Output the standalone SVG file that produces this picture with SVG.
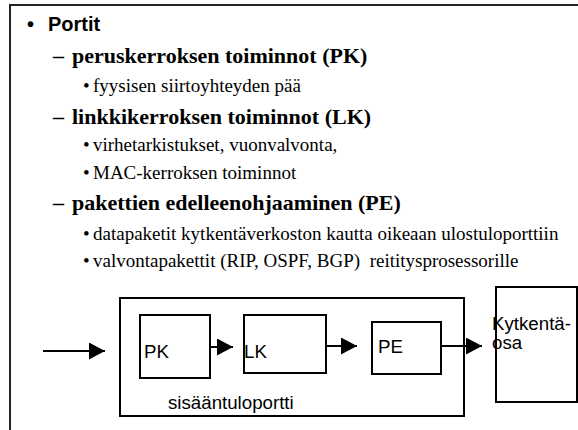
<svg xmlns="http://www.w3.org/2000/svg" width="578" height="430" viewBox="0 0 578 430">
  <style>
    .frame { fill: none; stroke: #222; stroke-width: 2; }
    .box { fill: #fff; stroke: #000; stroke-width: 2; }
    .line { stroke: #000; stroke-width: 2; fill: none; }
    .l1 { font-family: "Liberation Sans", Arial, sans-serif; font-weight: bold; font-size: 20px; fill: #000; }
    .l2 { font-family: "Liberation Serif", "Times New Roman", serif; font-weight: bold; font-size: 22px; fill: #000; }
    .l3 { font-family: "Liberation Serif", "Times New Roman", serif; font-size: 19px; fill: #000; }
    .lbl { font-family: "Liberation Sans", Arial, sans-serif; font-size: 18.7px; fill: #000; }
  </style>
  <defs>
    <marker id="arrow" markerWidth="16" markerHeight="17" refX="16" refY="8.5" orient="auto" markerUnits="userSpaceOnUse">
      <path d="M0,0 L16,8.5 L0,17 Z" fill="#000"/>
    </marker>
  </defs>
  <rect width="578" height="430" fill="#fff"/>
  <!-- slide frame, running off the right and bottom edges -->
  <path class="frame" d="M10,440 L10,5 L590,5"/>

  <!-- bullet text -->
  <g id="text">
    <text class="l1" x="27" y="31">•</text>
    <text class="l1" x="48" y="31">Portit</text>

    <text class="l2" x="53" y="63">–</text>
    <text class="l2" x="72" y="63">peruskerroksen toiminnot (PK)</text>
    <text class="l3" x="83" y="92">•</text>
    <text class="l3" x="93" y="92">fyysisen siirtoyhteyden pää</text>

    <text class="l2" x="53" y="124">–</text>
    <text class="l2" x="72" y="124">linkkikerroksen toiminnot (LK)</text>
    <text class="l3" x="83" y="151">•</text>
    <text class="l3" x="93" y="151">virhetarkistukset, vuonvalvonta,</text>
    <text class="l3" x="83" y="179">•</text>
    <text class="l3" x="93" y="179">MAC-kerroksen toiminnot</text>

    <text class="l2" x="53" y="210">–</text>
    <text class="l2" x="72" y="210">pakettien edelleenohjaaminen (PE)</text>
    <text class="l3" x="83" y="240">•</text>
    <text class="l3" x="93" y="240">datapaketit kytkentäverkoston kautta oikeaan ulostuloporttiin</text>
    <text class="l3" x="83" y="267">•</text>
    <text class="l3" x="93" y="267" xml:space="preserve">valvontapakettit (RIP, OSPF, BGP)  reititysprosessorille</text>
  </g>

  <g id="sisaantuloportti">
    <rect class="box" x="120" y="298" width="344" height="118"/>
    <text class="lbl" x="168" y="409">sisääntuloportti</text>
  </g>
  <g id="pk">
    <rect class="box" x="140" y="315" width="70" height="63"/>
    <text class="lbl" x="144" y="358">PK</text>
  </g>
  <g id="lk">
    <rect class="box" x="244" y="315" width="82" height="58"/>
    <text class="lbl" x="244" y="358">LK</text>
  </g>
  <g id="pe">
    <rect class="box" x="372" y="322" width="69" height="52"/>
    <text class="lbl" x="378" y="353">PE</text>
  </g>
  <g id="kytkentaosa">
    <rect class="box" x="496" y="287" width="81" height="115"/>
    <text class="lbl" x="492" y="330">Kytkentä-</text>
    <text class="lbl" x="492" y="349">osa</text>
  </g>

  <g id="connectors">
    <line class="line" x1="43" y1="351" x2="105" y2="351" marker-end="url(#arrow)"/>
    <line class="line" x1="210" y1="347" x2="233" y2="347" marker-end="url(#arrow)"/>
    <line class="line" x1="326" y1="346" x2="357" y2="346" marker-end="url(#arrow)"/>
    <line class="line" x1="441" y1="346" x2="482" y2="346" marker-end="url(#arrow)"/>
  </g>
</svg>
